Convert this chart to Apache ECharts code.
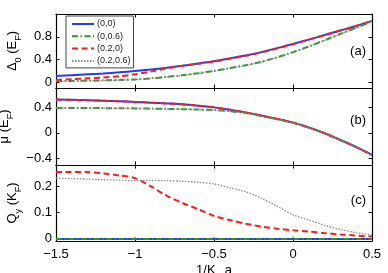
<!DOCTYPE html>
<html><head><meta charset="utf-8">
<script src="https://cdn.jsdelivr.net/npm/echarts@6/dist/echarts.min.js"></script>
<style>html,body{margin:0;padding:0;background:#fff}#c{width:388px;height:273px}</style>
</head><body><div id="c"></div>
<script>
// x values (1/K_F a)
const xVals = [-1.5,-1.4,-1.3,-1.2,-1.1,-1.0,-0.9,-0.8,-0.7,-0.6,-0.5,-0.4,-0.3,-0.2,-0.1,0.0,0.1,0.2,0.3,0.4,0.5];
const seriesNames = ['(0,0)','(0,0.6)','(0.2,0)','(0.2,0.6)'];
const xTicks = [-1.5,-1,-0.5,0,0.5];
const yTicksA = [0,0.4,0.8];
const yTicksB = [-0.4,0,0.4];
const yTicksC = [0,0.1,0.2];

// Panel (a): Delta_0 (E_F)
const gapA_00   = [0.11,0.125,0.14,0.155,0.175,0.20,0.225,0.255,0.29,0.33,0.37,0.42,0.47,0.53,0.60,0.675,0.75,0.83,0.91,0.99,1.08];
const gapA_006  = [0.02,0.025,0.03,0.035,0.042,0.05,0.07,0.095,0.125,0.16,0.20,0.25,0.30,0.36,0.44,0.53,0.63,0.74,0.85,0.96,1.07];
const gapA_020  = [0.04,0.055,0.07,0.085,0.105,0.14,0.19,0.245,0.29,0.325,0.365,0.415,0.465,0.525,0.595,0.67,0.75,0.83,0.91,0.99,1.08];
const gapA_0206 = [0.015,0.02,0.025,0.03,0.038,0.047,0.066,0.09,0.12,0.155,0.195,0.245,0.295,0.355,0.435,0.525,0.625,0.735,0.845,0.955,1.07];

// Panel (b): mu (E_F)
const muB_00   = [0.52,0.515,0.51,0.502,0.493,0.483,0.472,0.46,0.445,0.425,0.398,0.362,0.32,0.27,0.218,0.16,0.085,-0.005,-0.11,-0.22,-0.34];
const muB_006  = [0.39,0.39,0.388,0.386,0.384,0.382,0.379,0.375,0.37,0.364,0.356,0.338,0.31,0.265,0.215,0.158,0.083,-0.007,-0.112,-0.222,-0.345];
const muB_020  = [0.52,0.515,0.51,0.502,0.493,0.483,0.472,0.46,0.445,0.425,0.398,0.362,0.32,0.27,0.218,0.16,0.085,-0.005,-0.11,-0.22,-0.34];
const muB_0206 = [0.388,0.388,0.386,0.384,0.382,0.38,0.377,0.373,0.368,0.362,0.354,0.336,0.308,0.263,0.213,0.156,0.081,-0.009,-0.114,-0.224,-0.347];

// Panel (c): Q_y (K_F)
const qC_00   = [0,0,0,0,0,0,0,0,0,0,0,0,0,0,0,0,0,0,0,0,0];
const qC_006  = [0,0,0,0,0,0,0,0,0,0,0,0,0,0,0,0,0,0,0,0,0];
const qC_020  = [0.255,0.255,0.255,0.25,0.242,0.232,0.20,0.165,0.137,0.113,0.088,0.072,0.058,0.047,0.039,0.033,0.028,0.022,0.017,0.013,0.009];
const qC_0206 = [0.232,0.23,0.228,0.226,0.224,0.222,0.222,0.222,0.22,0.216,0.21,0.195,0.18,0.155,0.125,0.092,0.072,0.052,0.036,0.024,0.015];

const FONT = 'Liberation Sans';
const colors = ['#1f3cff','#229922','#ff1a1a','#8a8a8a'];
const lineTypes = ['solid',[6,2.5,1.5,2.5],[6,3.5],[1.5,1.5]];
const widths = [2,2,2,1.3];

const grids = [
  {left:56,right:16,top:14,height:74,outerBoundsMode:'none'},
  {left:56,right:16,top:88,height:77,outerBoundsMode:'none'},
  {left:56,right:16,top:165,height:76,outerBoundsMode:'none'}
];
const yRanges = [[-0.1,1.2],[-0.5,0.7],[-0.008,0.282]];
const yTickSets = [yTicksA,yTicksB,yTicksC];
const sub = {fontSize:9, fontFamily:FONT, color:'#000', verticalAlign:'bottom', lineHeight:22};
const nm = {fontSize:13, fontFamily:FONT, color:'#000', lineHeight:16};
const yNames = ['{n|Δ}{s|0}{n| (E}{s|F}{n|)}','{n|μ (E}{s|F}{n|)}','{n|Q}{s|y}{n| (K}{s|F}{n|)}'];
const fmt = v => String(+v.toFixed(3)).replace('-','\u2212');

const xAxis = [], yAxis = [];
for (let i=0;i<3;i++){
  const base = {type:'value', gridIndex:i, min:-1.5, max:0.5, interval:0.5,
    axisLine:{show:true, onZero:false, lineStyle:{color:'#000',width:1.2}},
    axisTick:{show:true, inside:true, length:3.5, customValues:xTicks, lineStyle:{color:'#000',width:1}},
    splitLine:{show:false}};
  xAxis.push(Object.assign({}, base, {position:'bottom',
    axisLabel:{show:i===2, fontSize:13, fontFamily:FONT, color:'#000', margin:7, customValues:xTicks, formatter:fmt},
    name: i===2 ? '{n|1/K}{s|F}{n| a}' : '', nameLocation:'middle', nameGap:18,
    nameTextStyle:{rich:{n:nm,s:sub}}}));
  xAxis.push(Object.assign({}, base, {position:'top', axisLabel:{show:false}}));
  const yb = {type:'value', gridIndex:i, min:yRanges[i][0], max:yRanges[i][1],
    axisLine:{show:true, onZero:false, lineStyle:{color:'#000',width:1.2}},
    axisTick:{show:true, inside:true, length:3.5, customValues:yTickSets[i], lineStyle:{color:'#000',width:1}},
    splitLine:{show:false}};
  yAxis.push(Object.assign({}, yb, {position:'left',
    axisLabel:{show:true, fontSize:13, fontFamily:FONT, color:'#000', margin:4, customValues:yTickSets[i], formatter:fmt},
    name:yNames[i], nameLocation:'middle', nameGap:31,
    nameTextStyle:{rich:{n:nm,s:sub}}}));
  yAxis.push(Object.assign({}, yb, {position:'right', axisLabel:{show:false}}));
}

const panels = [[gapA_00,gapA_006,gapA_020,gapA_0206],[muB_00,muB_006,muB_020,muB_0206],[qC_00,qC_006,qC_020,qC_0206]];
const series = [];
panels.forEach((arrs,i)=>{
  arrs.forEach((arr,k)=>{
    series.push({type:'line', name:seriesNames[k], xAxisIndex:2*i, yAxisIndex:2*i,
      data: xVals.map((x,j)=>[x,arr[j]]), symbol:'none', smooth:0.3, animation:false,
      z: 2+k,
      lineStyle:{color:colors[k], width:widths[k], type:lineTypes[k]},
      itemStyle:{color:colors[k]}});
  });
});

const chart = echarts.init(document.getElementById('c'), null, {renderer:'canvas'});
chart.setOption({
  animation:false,
  backgroundColor:'#fff',
  grid:grids,
  xAxis, yAxis, series,
  legend:{data:seriesNames, orient:'vertical', left:66, top:16,
    itemWidth:22, itemHeight:8, itemGap:3.3, padding:[3.5,3,2.5,5],
    borderColor:'#444', borderWidth:1, backgroundColor:'#fff',
    itemStyle:{color:'rgba(0,0,0,0)', borderWidth:0, opacity:0},
    textStyle:{fontSize:9,fontFamily:FONT,color:'#222',padding:[0,0,0,-2]}},
  graphic:[
    {type:'text', right:22, top:45, style:{text:'(a)', font:'13px "Liberation Sans"', fill:'#000'}},
    {type:'text', right:22, top:114, style:{text:'(b)', font:'13px "Liberation Sans"', fill:'#000'}},
    {type:'text', right:22, top:194, style:{text:'(c)', font:'13px "Liberation Sans"', fill:'#000'}}
  ]
});
</script></body></html>
